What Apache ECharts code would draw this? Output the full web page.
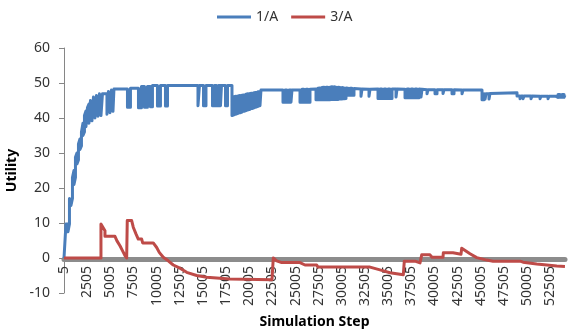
<!DOCTYPE html>
<html><head><meta charset="utf-8">
<script src="https://cdn.jsdelivr.net/npm/echarts@6/dist/echarts.min.js"></script>
<style>html,body{margin:0;padding:0;background:#fff}#c{width:581px;height:332px}</style>
</head><body><div id="c"></div>
<script>
// Tick labels of the "Simulation Step" axis (every 2500 steps, starting at 5)
const tickLabels = ['5','2505','5005','7505','10005','12505','15005','17505','20005','22505','25005',
  '27505','30005','32505','35005','37505','40005','42505','45005','47505','50005','52505'];
const seriesNames = ['1/A', '3/A'];
// [simulation step, utility] (rapid oscillations kept as up/down pairs)
const blue = [[5,0],[216,0],[216,9.7],[432,9.7],[432,7.5],[594,9.7],[594,17],[756,17],[756,15],[918,17],[918,23],
[1080,25],[1080,21],[1242,23],[1242,28.8],[1404,30],[1404,26.9],[1566,28],[1566,32.6],[1728,34],[1728,31],
[1890,32],[1890,36],[2052,38.5],[2052,35],[2214,36],[2214,40.7],[2376,42],[2376,37.5],[2538,38],[2538,43],
[2700,44],[2700,38.5],[2862,39],[2862,45],[3024,45.5],[3024,39.2],[3186,39.5],[3186,46],[3348,46.4],[3348,40],
[3510,40.2],[3510,46.4],[3672,46.7],[3672,40.5],[3834,40.7],[3834,46.9],[3996,46.9],[3996,40.7],[4158,41],[4158,46.9],
[4644,46.9],[4644,41.1],[4806,41.3],[4806,47.6],[4968,47.8],[4968,41.5],[5130,41.7],[5130,48],[5292,48.2],[5292,41.9],[5400,42],[5400,48.3],
[6858,48.3],[6858,43.1],[7182,43.1],[7182,48.5],
[8046,48.5],[8046,42.9],[8370,42.9],[8370,49],
[8694,49],[8694,43.1],[9018,43.1],[9018,49],
[9342,49],[9342,43.2],[9558,43.2],[9558,49.3],
[10098,49.3],[10098,43.4],[10422,43.4],[10422,49.3],
[10962,49.3],[10962,43.4],[11178,43.4],[11178,49.3],
[14472,49.3],[14472,43.5],[14634,43.5],[14634,49.3],
[15066,49.3],[15066,43.5],[15336,43.5],[15336,49.3],
[16038,49.3],[16038,43.5],[16254,43.5],[16254,49.3],[16470,49.3],[16470,43.5],[16686,43.5],[16686,49.3],[16902,49.3],[16902,43.5],[17010,43.5],[17010,49.3],
[17442,49.3],[17442,43.5],[17658,43.5],[17658,49.3],
[18144,49.3],[18144,40.7],
[18360,40.9],[18360,46.1],[18576,46.2],[18576,41.1],[18792,41.3],[18792,46.3],[19008,46.4],[19008,41.5],[19224,41.7],[19224,46.5],
[19440,46.6],[19440,41.9],[19656,42.1],[19656,46.8],[19872,46.9],[19872,42.3],[20088,42.5],[20088,47],[20304,47.1],[20304,42.7],
[20520,42.9],[20520,47.2],[20736,47.3],[20736,43.1],[20952,43.3],[20952,47.5],[21168,47.6],[21168,43.5],[21276,43.6],[21276,48],
[23652,48],[23652,44.5],[23868,44.5],[23868,48],[24084,48],[24084,44.5],[24300,44.5],[24300,48],[24516,48],[24516,44.5],[24624,44.5],[24624,48],
[25488,48],[25488,44.5],[25704,44.5],[25704,48.2],[25920,48.2],[25920,44.5],[26136,44.5],[26136,48.2],[26352,48.2],[26352,44.5],[26568,44.5],[26568,48.2],
[27216,48.3],[27216,45.2],[27432,45.2],[27432,48.5],[27648,48.6],[27648,45.2],[27864,45.2],[27864,48.7],[28080,48.8],[28080,45.2],
[28296,45.2],[28296,48.8],[28512,48.8],[28512,45.2],[28728,45.2],[28728,48.8],[28944,48.9],[28944,45.3],[29160,45.3],[29160,48.9],
[29376,48.8],[29376,45.3],[29592,45.3],[29592,48.8],[29808,48.7],[29808,45.4],[30024,45.4],[30024,48.7],[30240,48.6],[30240,45.5],
[30456,45.6],[30456,48.6],[30672,48.5],[30672,46.5],[30888,46.5],[30888,48.5],[31104,48.5],[31104,46.5],[31320,46.5],[31320,48.4],
[32076,48.3],[32076,46.2],[32184,46.2],[32184,48.3],
[32940,48.2],[32940,46.2],[33048,46.2],[33048,48.2],
[33912,48.3],[33912,45.6],[34128,45.6],[34128,48.3],[34344,48.3],[34344,45.6],[34560,45.6],[34560,48.3],
[34776,48.3],[34776,45.6],[34992,45.6],[34992,48.3],[35208,48.3],[35208,45.6],[35424,45.6],[35424,48.3],
[35856,48.3],[35856,46],[35964,46],[35964,48.3],
[36828,48.2],[36828,45.8],[37044,45.8],[37044,48.3],[37260,48.3],[37260,45.8],[37476,45.8],[37476,48.3],
[37692,48.3],[37692,45.8],[37908,45.8],[37908,48.3],[38124,48.3],[38124,45.8],[38340,45.8],[38340,48.3],
[38556,48.2],[38556,46],[38664,46],[38664,48.2],
[39204,48.1],[39204,46.9],[39312,46.9],[39312,48.1],
[40068,48.1],[40068,46.9],[40284,46.9],[40284,48.1],
[40932,48.1],[40932,47],[41040,47],[41040,48.1],
[41904,48.1],[41904,46.9],[42120,46.9],[42120,48.1],
[42984,48],[42984,46.9],[43092,46.9],[43092,48],
[45144,48],[45144,45.2],[45360,45.2],[45360,46.9],
[45468,46.9],[45468,45.4],[45576,45.4],[45576,46.9],
[45900,46.9],[45900,45.4],[46008,45.4],[46008,47],
[48924,47.2],[48924,46.3],[49248,46.3],[49248,45.5],[49356,45.5],[49356,46.3],
[49572,46.3],[49572,45.5],[49680,45.5],[49680,46.3],
[50436,46.3],[50436,45.5],[50544,45.5],[50544,46.3],
[51408,46.2],[51408,45.5],[51516,45.5],[51516,46.2],
[52272,46.2],[52272,45.5],[52380,45.5],[52380,46.2],
[53136,46.2],[53136,45.9],[53352,45.9],[53352,46.7],[53568,46.7],[53568,45.9],[53784,45.9],[53784,46.7],[54000,46.7],[54000,45.9],[54100,45.9],[54100,46.5]];
const red = [[5,0],[3996,0],[3996,9.7],[4428,7.8],[4428,6.2],[5508,6.2],[5724,4.9],[6048,3.5],[6318,2.1],[6588,0.7],[6772,0],[6836,10.7],[7312,10.7],[7484,8.8],[7776,6.9],[8024,5.4],[8392,5.4],[8500,4.3],[9644,4.3],[10012,3.0],[10292,1.6],[10724,0.2],[11264,-0.8],[11804,-2.0],[12528,-2.9],[13252,-4.1],[14332,-5.0],[15412,-5.5],[16848,-5.8],[17928,-6.0],[22464,-6.2],[22604,0],[22972,-0.8],[23512,-1.3],[25488,-1.3],[26028,-2.0],[27292,-2.0],[27432,-2.6],[33048,-2.6],[34128,-3.4],[35208,-4.2],[36644,-4.8],[36752,-0.9],[37908,-0.9],[38448,-1.4],[38632,0.9],[39528,0.9],[39744,0.2],[40932,0.2],[40964,1.5],[42012,1.5],[42120,1.1],[42876,1.1],[42952,2.8],[43848,1.2],[44572,0.1],[45652,-0.6],[46332,-0.9],[49248,-0.9],[49572,-1.2],[51052,-1.7],[52132,-2.0],[53212,-2.3],[54100,-2.4]];

const FONT = 'Noto Sans';
const toXY = arr => arr.map(p => [p[0] - 5, p[1]]);
const chart = echarts.init(document.getElementById('c'), null, {renderer: 'canvas'});
chart.setOption({
  animation: false,
  legend: {
    data: seriesNames, top: 5, left: 212, itemGap: 13, itemWidth: 34, itemHeight: 3, icon: 'rect',
    textStyle: {fontFamily: FONT, fontSize: 14, color: '#333'}
  },
  grid: {left: 64, right: 16, top: 48, bottom: 39, containLabel: false, outerBoundsMode: 'none'},
  xAxis: {
    type: 'value', min: 0, max: 54100, interval: 2500, position: 'bottom', offset: -34,
    name: 'Simulation Step', nameLocation: 'middle', nameGap: 56,
    nameTextStyle: {fontFamily: FONT, fontSize: 14, fontWeight: 'bold', color: '#000'},
    axisLine: {show: true, onZero: false, lineStyle: {color: '#8c8c8c', width: 5}},
    axisTick: {show: false},
    splitLine: {show: false},
    axisLabel: {
      rotate: 90, margin: 7, showMaxLabel: false, hideOverlap: false,
      fontFamily: FONT, fontSize: 14, color: '#333',
      formatter: v => tickLabels[Math.round(v / 2500)] || ''
    }
  },
  yAxis: {
    type: 'value', min: -10, max: 60, interval: 10,
    name: 'Utility', nameLocation: 'middle', nameGap: 45,
    nameTextStyle: {fontFamily: FONT, fontSize: 14, fontWeight: 'bold', color: '#000'},
    axisLine: {show: true, onZero: false, lineStyle: {color: '#868686', width: 1}},
    axisTick: {show: true, inside: false, length: 5, lineStyle: {color: '#868686'}},
    splitLine: {show: false},
    axisLabel: {margin: 14, fontFamily: FONT, fontSize: 14, color: '#333'}
  },
  series: [
    {name: seriesNames[0], type: 'line', data: toXY(blue), showSymbol: false, symbol: 'none',
     color: '#4a7ebb', lineStyle: {color: '#4a7ebb', width: 3, join: 'round'}, z: 3},
    {name: seriesNames[1], type: 'line', data: toXY(red), showSymbol: false, symbol: 'none',
     color: '#be4b48', lineStyle: {color: '#be4b48', width: 3, join: 'round'}, z: 4}
  ]
});
</script></body></html>
